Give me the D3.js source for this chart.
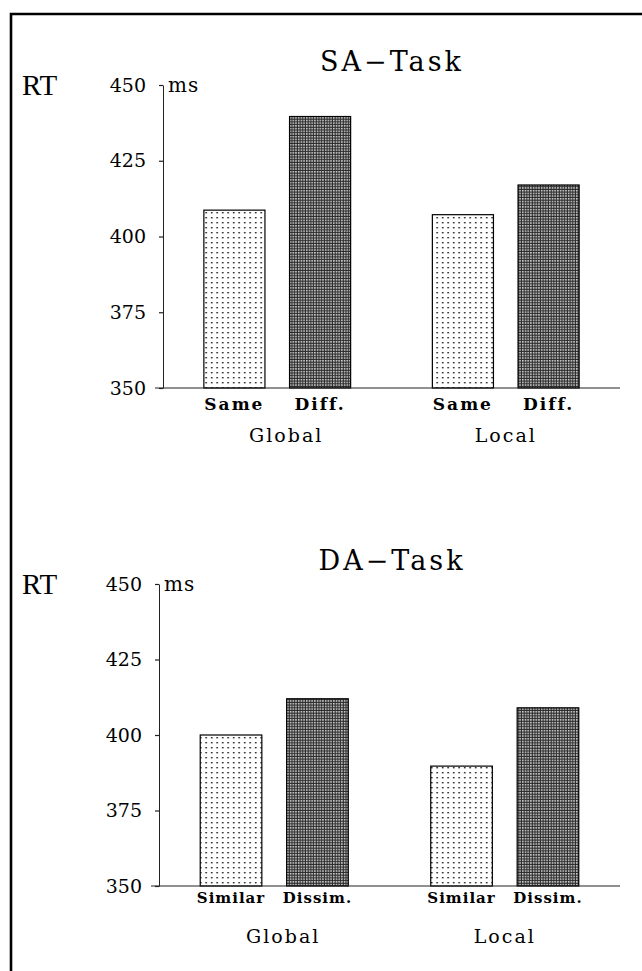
<!DOCTYPE html>
<html>
<head>
<meta charset="utf-8">
<script src="https://cdn.jsdelivr.net/npm/d3@7"></script>
<style>
  html, body { margin: 0; padding: 0; background: #fff; }
  svg { display: block; }
  text { font-family: "DejaVu Serif", serif; fill: #000; }
</style>
</head>
<body>
<div id="chart"></div>
<script>
// RT bar charts, SA-Task (top) and DA-Task (bottom).

const groups = ['Global', 'Local'];
const saConds = ['Same', 'Diff.'];
const saValues = [[408.7, 439.6], [407.2, 417]];   // [group][condition]
const daConds = ['Similar', 'Dissim.'];
const daValues = [[400, 412], [389.7, 409]];
const yTicks = [350, 375, 400, 425, 450];

const W = 642, H = 971;

const svg = d3.select('#chart').append('svg')
  .attr('width', W).attr('height', H)
  .attr('viewBox', `0 0 ${W} ${H}`);

// fill patterns: sparse dots for first condition, dense grid for second
const defs = svg.append('defs');
const dots = defs.append('pattern').attr('id', 'dots')
  .attr('patternUnits', 'userSpaceOnUse').attr('width', 5.5).attr('height', 5);
dots.append('rect').attr('width', 5.5).attr('height', 5).attr('fill', '#fff');
dots.append('rect').attr('x', 2).attr('y', 2).attr('width', 1.4).attr('height', 1.4).attr('fill', '#000');

const grid = defs.append('pattern').attr('id', 'grid')
  .attr('patternUnits', 'userSpaceOnUse').attr('width', 2.7).attr('height', 2.7);
grid.append('rect').attr('width', 2.7).attr('height', 2.7).attr('fill', '#2a2a2a');
grid.append('rect').attr('x', 1).attr('y', 1).attr('width', 1.4).attr('height', 1.4).attr('fill', '#fff');

// frame (left and top edges)
svg.append('path')
  .attr('d', `M11,${H} V14 H${W}`)
  .attr('fill', 'none').attr('stroke', '#000').attr('stroke-width', 2.6);

const panels = [
  { title: 'SA\u2212Task', conds: saConds, values: saValues, top: 85, base: 388, axisX: 163, condSize: 17, condSpacing: 2, condDy: 22, groupDy: 54 },
  { title: 'DA\u2212Task', conds: daConds, values: daValues, top: 584, base: 886, axisX: 159, condSize: 15, condSpacing: 1, condDy: 17, groupDy: 57 },
];

panels.forEach(drawPanel);

function drawPanel(p) {
  const g = svg.append('g');
  const right = 620;

  const y = d3.scaleLinear().domain([350, 450]).range([p.base, p.top]);
  const x0 = d3.scaleBand().domain(groups).range([p.axisX, right]).paddingInner(0).paddingOuter(0);
  const x1 = d3.scaleBand().domain(p.conds).range([0, x0.bandwidth()])
    .paddingInner(0.287).paddingOuter(0.477);

  // bars
  const rows = [];
  groups.forEach((grp, i) => p.conds.forEach((c, j) => rows.push({ grp, c, j, v: p.values[i][j] })));

  g.append('g').selectAll('rect').data(rows).join('rect')
    .attr('x', d => x0(d.grp) + x1(d.c))
    .attr('y', d => y(d.v))
    .attr('width', x1.bandwidth())
    .attr('height', d => y(350) - y(d.v))
    .attr('fill', d => d.j === 0 ? 'url(#dots)' : 'url(#grid)')
    .attr('stroke', '#000').attr('stroke-width', 1.2);

  // y axis
  const ax = g.append('g').attr('transform', `translate(${p.axisX},0)`)
    .call(d3.axisLeft(y).tickValues(yTicks).tickSize(4).tickSizeOuter(0).tickPadding(13));
  ax.select('.domain').attr('stroke', '#222').attr('stroke-width', 1);
  ax.selectAll('.tick line').attr('stroke', '#222').attr('stroke-width', 1.2);
  ax.selectAll('.tick text')
    .style('font-family', '"DejaVu Serif", serif')
    .attr('font-size', 19).attr('fill', '#000');

  // baseline
  g.append('line')
    .attr('x1', p.axisX - 8).attr('x2', right)
    .attr('y1', y(350)).attr('y2', y(350))
    .attr('stroke', '#222').attr('stroke-width', 1.2);

  g.append('text').attr('x', p.axisX + 5).attr('y', y(450) + 7)
    .attr('font-size', 20).attr('letter-spacing', 1).text('ms');

  g.append('text').attr('x', 22).attr('y', y(450) + 10)
    .style('font-family', '"Liberation Serif", serif')
    .attr('font-size', 29).text('RT');

  g.append('text').attr('x', 392).attr('y', y(450) - 14)
    .attr('text-anchor', 'middle')
    .attr('font-size', 27).attr('letter-spacing', 3).text(p.title);

  // condition labels
  g.append('g').selectAll('text').data(rows).join('text')
    .attr('x', d => x0(d.grp) + x1(d.c) + x1.bandwidth() / 2)
    .attr('y', y(350) + p.condDy)
    .attr('text-anchor', 'middle')
    .attr('font-size', p.condSize).attr('font-weight', 'bold')
    .attr('letter-spacing', p.condSpacing)
    .text(d => d.c);

  // group labels
  g.append('g').selectAll('text').data(groups).join('text')
    .attr('x', d => x0(d) + x0.bandwidth() / 2 + (d === 'Global' ? 9 : 0))
    .attr('y', y(350) + p.groupDy)
    .attr('text-anchor', 'middle')
    .attr('font-size', 19).attr('letter-spacing', 2)
    .text(d => d);
}
</script>
</body>
</html>
